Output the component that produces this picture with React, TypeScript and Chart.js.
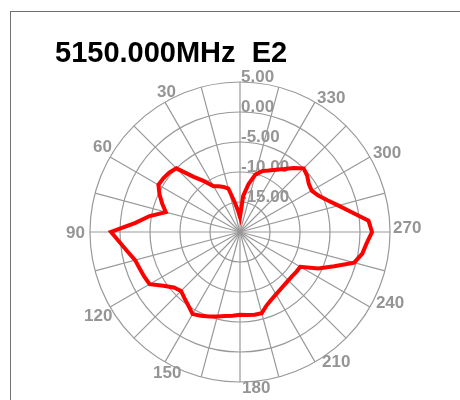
import React, { useEffect, useRef } from "react";
import { Chart, registerables } from "chart.js";

Chart.register(...registerables);

const TITLE = "5150.000MHz  E2";

// Measurement angles (degrees, counter-clockwise from top)
const ANGLES = [
  0, 5, 10, 15, 20, 25, 30, 35, 40, 45, 50, 55, 60, 65, 70, 75, 80, 85,
  90, 95, 100, 105, 110, 115, 120, 125, 130, 135, 140, 145, 150, 155, 160, 165, 170, 175,
  180, 185, 190, 195, 200, 205, 210, 215, 220, 225, 230, 235, 240, 245, 250, 255, 260, 265,
  270, 275, 280, 285, 290, 295, 300, 305, 310, 315, 320, 325, 330, 335, 340, 345, 350, 355,
];

// Gain (dB) at each angle above
const GAIN = [
  -17.5, -16.5, -15.0, -12.5, -12.0, -11.6, -11.2, -9.7, -8.0, -5.0, -4.6, -4.4, -4.3, -5.2, -6.2, -7.2, -4.7, -2.5,
  1.5, 0.1, -1.0, -1.9, -2.2, -2.4, -2.6, -4.4, -5.6, -6.1, -5.6, -5.0, -4.2, -4.6, -5.0, -5.4, -5.8, -6.0,
  -6.2, -6.1, -6.0, -6.0, -7.0, -7.6, -8.0, -8.3, -8.5, -8.6, -8.6, -8.5, -8.4, -5.6, -3.3, -0.3, 0.7, 1.2,
  2.0, 1.5, -1.1, -3.0, -4.5, -5.6, -6.2, -6.0, -5.4, -5.0, -6.1, -7.2, -8.0, -8.7, -9.2, -10.1, -11.9, -14.0,
];

// Angle labels shown around the rim
const RIM_LABELS = [30, 60, 90, 120, 150, 180, 210, 240, 270, 300, 330];

// Radial scale (dB)
const R_MIN = -20;
const R_MAX = 5;
const R_STEP = 5;

const N = ANGLES.length;
// radar draws clockwise; map clockwise slot i -> ccw angle
const slotAngle = (i: number) => ANGLES[(N - i) % N];
const LABELS = ANGLES.map((_, i) => String(slotAngle(i)));
const DATA = ANGLES.map((_, i) => GAIN[(N - i) % N]);

// text offsets (left x, baseline y) relative to rim point
const RIM_OFFSETS: Record<number, [number, number]> = {
  30: [-8, -5],
  60: [-17, -5],
  90: [-24, 6],
  120: [-26, 14],
  150: [-12, 16],
  180: [2, 11],
  210: [7, 5],
  240: [6, 1],
  270: [3, 1],
  300: [3, 1],
  330: [2, 1],
};

const textPlugin = {
  id: "polarText",
  beforeDatasetsDraw(chart: any) {
    const scale = chart.scales.r;
    const ctx = chart.ctx;
    ctx.save();
    ctx.font = 'bold 17px "Liberation Sans", Arial, sans-serif';
    ctx.fillStyle = "#959595";
    ctx.textAlign = "left";
    ctx.textBaseline = "alphabetic";
    scale.ticks.forEach((t: any, i: number) => {
      if (i === 0) return;
      const d = scale.getDistanceFromCenterForValue(t.value);
      ctx.fillText(Number(t.value).toFixed(2), scale.xCenter + 1, scale.yCenter - d);
    });
    RIM_LABELS.forEach((a) => {
      const idx = ((360 - a) / 5) % N;
      const p = scale.getPointPositionForValue(idx, R_MAX);
      const off = RIM_OFFSETS[a] || [0, 0];
      ctx.fillText(String(a), p.x + off[0], p.y + off[1]);
    });
    ctx.restore();
  },
  afterDraw(chart: any) {
    const ctx = chart.ctx;
    ctx.save();
    ctx.font = 'bold 29px "Liberation Sans", Arial, sans-serif';
    ctx.fillStyle = "#000";
    ctx.textAlign = "left";
    ctx.textBaseline = "alphabetic";
    ctx.fillText(TITLE, 55, 62);
    ctx.restore();
  },
};

export default function App() {
  const ref = useRef<HTMLCanvasElement | null>(null);
  useEffect(() => {
    if (!ref.current) return;
    const chart = new Chart(ref.current, {
      type: "radar",
      data: {
        labels: LABELS,
        datasets: [
          {
            data: DATA,
            borderColor: "#ff0000",
            borderWidth: 4,
            fill: false,
            pointRadius: 0,
            tension: 0,
          },
        ],
      },
      options: {
        responsive: false,
        animation: false,
        layout: { padding: { left: 90, top: 82, right: 70, bottom: 18 } },
        plugins: { legend: { display: false }, tooltip: { enabled: false }, title: { display: false } },
        scales: {
          r: {
            min: R_MIN,
            max: R_MAX,
            ticks: { stepSize: R_STEP, display: false },
            grid: { circular: true, color: "#999999", lineWidth: 1.2 },
            angleLines: {
              display: true,
              lineWidth: 1.2,
              color: (c: any) => (c.index % 3 === 0 ? "#999999" : "rgba(0,0,0,0)"),
            },
            pointLabels: { display: false },
          },
        },
      },
      plugins: [textPlugin],
    });
    return () => chart.destroy();
  }, []);
  return (
    <>
      <div
        style={{
          position: "fixed",
          left: 10,
          top: 11,
          right: 0,
          bottom: 0,
          borderTop: "1px solid #707070",
          borderLeft: "1px solid #707070",
        }}
      />
      <div style={{ position: "fixed", left: 0, top: 0, width: 460, height: 400 }}>
        <canvas ref={ref} width={460} height={400} style={{ display: "block" }} />
      </div>
    </>
  );
}
